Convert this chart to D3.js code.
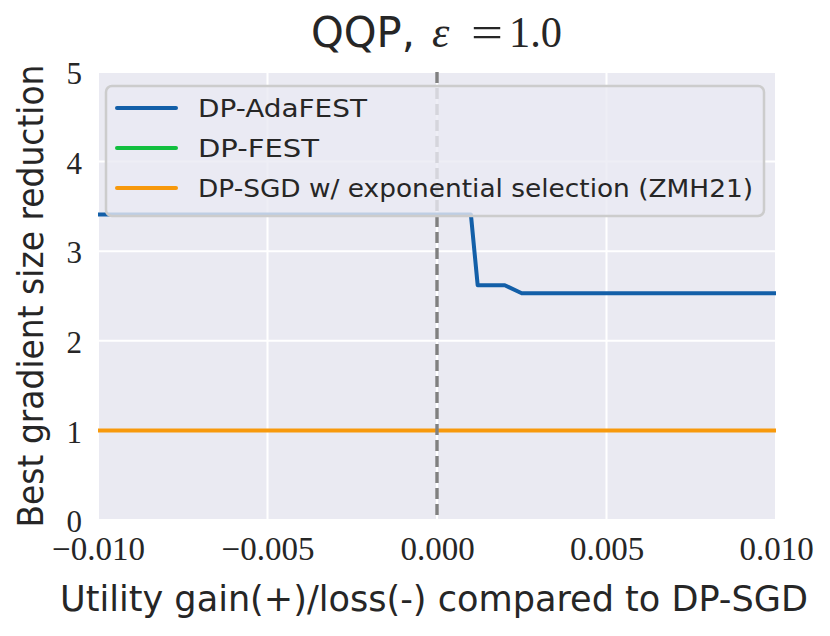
<!DOCTYPE html>
<html><head><meta charset="utf-8">
<script src="https://cdn.jsdelivr.net/npm/d3@7"></script>
<style>body{margin:0;background:#fff}</style>
</head><body>
<svg id="c" width="830" height="636"></svg>
<script>
const xTicks = [-0.010, -0.005, 0.000, 0.005, 0.010];
const xTickLabels = ["\u22120.010", "\u22120.005", "0.000", "0.005", "0.010"];
const yTicks = [0, 1, 2, 3, 4, 5];
const adaX = [-0.010, 0.0010, 0.0012, 0.0020, 0.0025, 0.010];
const adaY = [3.41, 3.41, 2.62, 2.62, 2.53, 2.53];
const festX = [-0.010, 0.010];
const festY = [1, 1];
const sgdX = [-0.010, 0.010];
const sgdY = [1, 1];
const seriesNames = ["DP-AdaFEST", "DP-FEST", "DP-SGD w/ exponential selection (ZMH21)"];
const colors = ["#135fa8", "#12bf3f", "#f7990c"];

const svg = d3.select("#c");
const L = 98, R = 776, T = 72, B = 520;
const x = d3.scaleLinear().domain([-0.01, 0.01]).range([L, R]);
const y = d3.scaleLinear().domain([0, 5]).range([B, T]);
const sans = "'DejaVu Sans', sans-serif";
const serif = "'Liberation Serif', serif";
const ink = "#262626";

svg.append("rect").attr("x", L).attr("y", T).attr("width", R - L).attr("height", B - T).attr("fill", "#eaeaf2");

// grid
svg.append("g").selectAll("line").data(xTicks).join("line")
  .attr("x1", d => x(d)).attr("x2", d => x(d)).attr("y1", T).attr("y2", B)
  .attr("stroke", "#fff").attr("stroke-width", 2);
svg.append("g").selectAll("line").data(yTicks).join("line")
  .attr("y1", d => y(d)).attr("y2", d => y(d)).attr("x1", L).attr("x2", R)
  .attr("stroke", "#fff").attr("stroke-width", 2);

// axes (tick labels only)
const xAxis = d3.axisBottom(x).tickValues(xTicks).tickFormat((d, i) => xTickLabels[i]).tickSize(0).tickPadding(0);
const gx = svg.append("g").attr("transform", `translate(0,${B})`).call(xAxis);
gx.select(".domain").remove();
gx.selectAll("text").attr("font-family", serif).attr("font-size", 33).attr("fill", ink)
  .attr("dy", null).attr("y", 40);

const yAxis = d3.axisLeft(y).tickValues(yTicks).tickFormat(d3.format("d")).tickSize(0).tickPadding(0);
const gy = svg.append("g").attr("transform", `translate(${L},0)`).call(yAxis);
gy.select(".domain").remove();
gy.selectAll("text").attr("font-family", serif).attr("font-size", 31).attr("fill", ink)
  .attr("x", -16).attr("dy", "0.38em");

// lines
const line = d3.line().x(d => x(d[0])).y(d => y(d[1]));
const series = [d3.zip(adaX, adaY), d3.zip(festX, festY), d3.zip(sgdX, sgdY)];
const widths = [4, 2.8, 4];
series.forEach((s, i) => {
  svg.append("path").datum(s).attr("d", line).attr("fill", "none")
    .attr("stroke", colors[i]).attr("stroke-width", widths[i]).attr("stroke-linejoin", "round");
});

// dashed vertical line at 0
svg.append("line").attr("x1", x(0)).attr("x2", x(0)).attr("y1", T).attr("y2", B)
  .attr("stroke", "#808080").attr("stroke-width", 3.4).attr("stroke-dasharray", "11,5");

// legend
const lg = svg.append("g");
lg.append("rect").attr("x", 106).attr("y", 86).attr("width", 658).attr("height", 130)
  .attr("rx", 6).attr("fill", "#eaeaf2").attr("fill-opacity", 0.8)
  .attr("stroke", "#cccccc").attr("stroke-width", 2.5);
const ly = [108, 148, 188];
const lw = [169, 121, 555];
seriesNames.forEach((n, i) => {
  lg.append("line").attr("x1", 117).attr("x2", 176).attr("y1", ly[i]).attr("y2", ly[i])
    .attr("stroke", colors[i]).attr("stroke-width", 4).attr("stroke-linecap", "round");
  lg.append("text").attr("x", 198).attr("y", ly[i] + 9)
    .attr("font-family", sans).attr("font-size", 25.5).attr("fill", ink)
    .attr("textLength", lw[i]).attr("lengthAdjust", "spacingAndGlyphs").text(n);
});

// axis labels & title
svg.append("text").attr("x", 434).attr("y", 611).attr("text-anchor", "middle")
  .attr("font-family", sans).attr("font-size", 36).attr("fill", ink)
  .attr("textLength", 748).attr("lengthAdjust", "spacingAndGlyphs")
  .text("Utility gain(+)/loss(-) compared to DP-SGD");
svg.append("text").attr("transform", "translate(43,296) rotate(-90)").attr("text-anchor", "middle")
  .attr("font-family", sans).attr("font-size", 36).attr("fill", ink)
  .attr("textLength", 463).attr("lengthAdjust", "spacingAndGlyphs")
  .text("Best gradient size reduction");
const tg = svg.append("g");
tg.append("text").attr("x", 311).attr("y", 47).attr("font-family", sans).attr("font-size", 43)
  .attr("fill", ink).attr("textLength", 104).attr("lengthAdjust", "spacingAndGlyphs").text("QQP,");
tg.append("text").attr("x", 432).attr("y", 47).attr("font-family", serif).attr("font-style", "italic")
  .attr("font-size", 44).attr("fill", ink).text("\u03b5");
tg.append("text").attr("x", 471).attr("y", 47).attr("font-family", serif).attr("font-size", 44)
  .attr("fill", ink).attr("textLength", 32).attr("lengthAdjust", "spacingAndGlyphs").text("=");
tg.append("text").attr("x", 509).attr("y", 47).attr("font-family", serif).attr("font-size", 44)
  .attr("fill", ink).attr("textLength", 53).attr("lengthAdjust", "spacingAndGlyphs").text("1.0");
</script>
</body></html>
